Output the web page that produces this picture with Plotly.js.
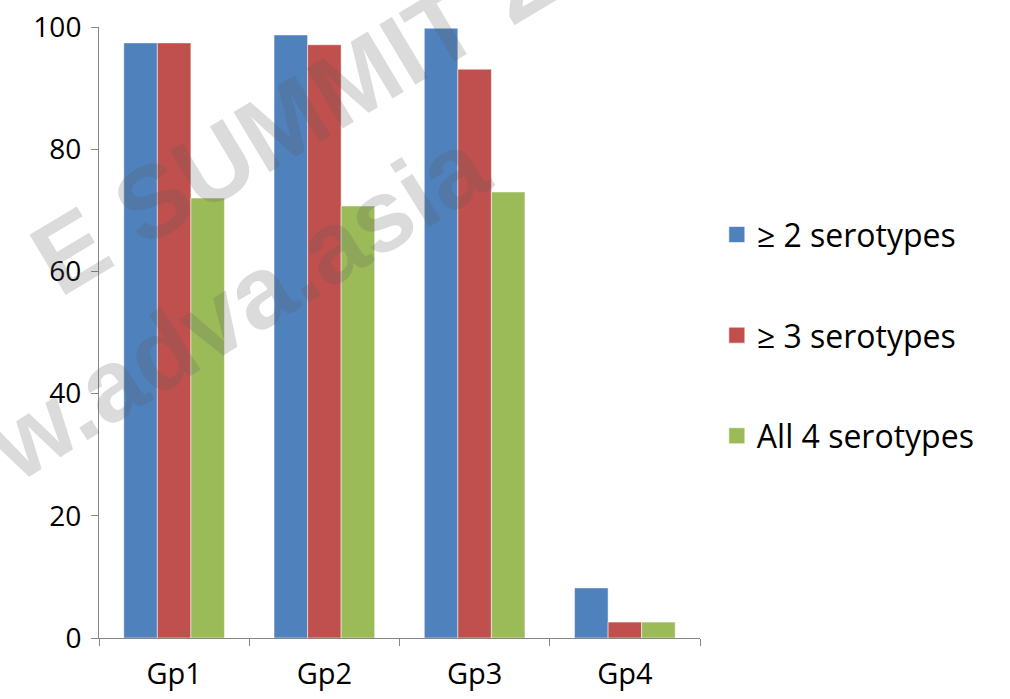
<!DOCTYPE html>
<html><head><meta charset="utf-8">
<script src="https://cdn.plot.ly/plotly-3.0.1.min.js"></script>
<style>html,body{margin:0;padding:0;background:#fff}#chart{width:1010px;height:699px}</style>
</head><body><div id="chart"></div>
<script>
const categories = ["Gp1", "Gp2", "Gp3", "Gp4"];
const seriesNames = ["≥ 2 serotypes", "≥ 3 serotypes", "All 4 serotypes"];
const atLeast2 = [97.4, 98.7, 99.8, 8.2];
const atLeast3 = [97.4, 97.1, 93.1, 2.6];
const all4 = [72.0, 70.7, 73.0, 2.6];
const yTicks = [0, 20, 40, 60, 80, 100];
const colors = ["#4F81BD", "#C0504D", "#9BBB59"];
const values = [atLeast2, atLeast3, all4];

const bars = values.map((v, i) => ({
  type: "bar", x: categories, y: v, name: seriesNames[i],
  showlegend: false,
  marker: {color: colors[i], line: {color: "rgba(255,255,255,0.5)", width: 1}},
  hoverinfo: "y"
}));
// legend-only entries with large square swatches
const legendEntries = seriesNames.map((n, i) => ({
  type: "scatter", mode: "markers", x: [categories[0]], y: [null], name: n,
  legendgroup: "g" + i, showlegend: true,
  marker: {symbol: "square", size: 23, color: colors[i], line: {color: "rgba(255,255,255,0.6)", width: 1}}
}));

const fontFam = "'Open Sans', Lato, sans-serif";
const wmFont = {size: 102, family: "'Liberation Sans', Arial, sans-serif", color: "rgba(90,90,90,0.22)"};
const layout = {
  width: 1010, height: 699,
  margin: {l: 99, r: 310, t: 27, b: 61},
  paper_bgcolor: "#fff", plot_bgcolor: "#fff",
  barmode: "group", bargap: 0.33, bargroupgap: 0,
  font: {family: fontFam, color: "#000"},
  xaxis: {
    type: "category", tickson: "boundaries", ticks: "outside", ticklen: 7,
    tickcolor: "#868686", showline: true, linecolor: "#868686", linewidth: 1,
    showgrid: false, tickfont: {size: 29, family: fontFam}, zeroline: false,
    ticklabelstandoff: 10
  },
  yaxis: {
    range: [0, 100], tickvals: yTicks, ticks: "outside", ticklen: 7,
    tickcolor: "#868686", showline: true, linecolor: "#868686", linewidth: 1,
    showgrid: false, zeroline: false, tickfont: {size: 28, family: fontFam}, ticklabelstandoff: 4
  },
  showlegend: true,
  legend: {
    x: 1.028, xanchor: "left", y: 0.705, yanchor: "top",
    font: {size: 32, family: fontFam}, traceorder: "grouped", tracegroupgap: 56,
    itemwidth: 30, bgcolor: "rgba(0,0,0,0)"
  },
  annotations: [
    {text: "<b>E SUMMIT 2</b>", xref: "paper", yref: "paper", xanchor: "center", yanchor: "middle",
     x: (292-99)/601, y: (638-118)/611, showarrow: false, textangle: -31, font: wmFont},
    {text: "<b>w.adva.asia</b>", xref: "paper", yref: "paper", xanchor: "center", yanchor: "middle",
     x: (238-99)/601, y: (638-305)/611, showarrow: false, textangle: -32, font: wmFont}
  ]
};
Plotly.newPlot("chart", bars.concat(legendEntries), layout, {displayModeBar: false, staticPlot: true});
</script></body></html>
